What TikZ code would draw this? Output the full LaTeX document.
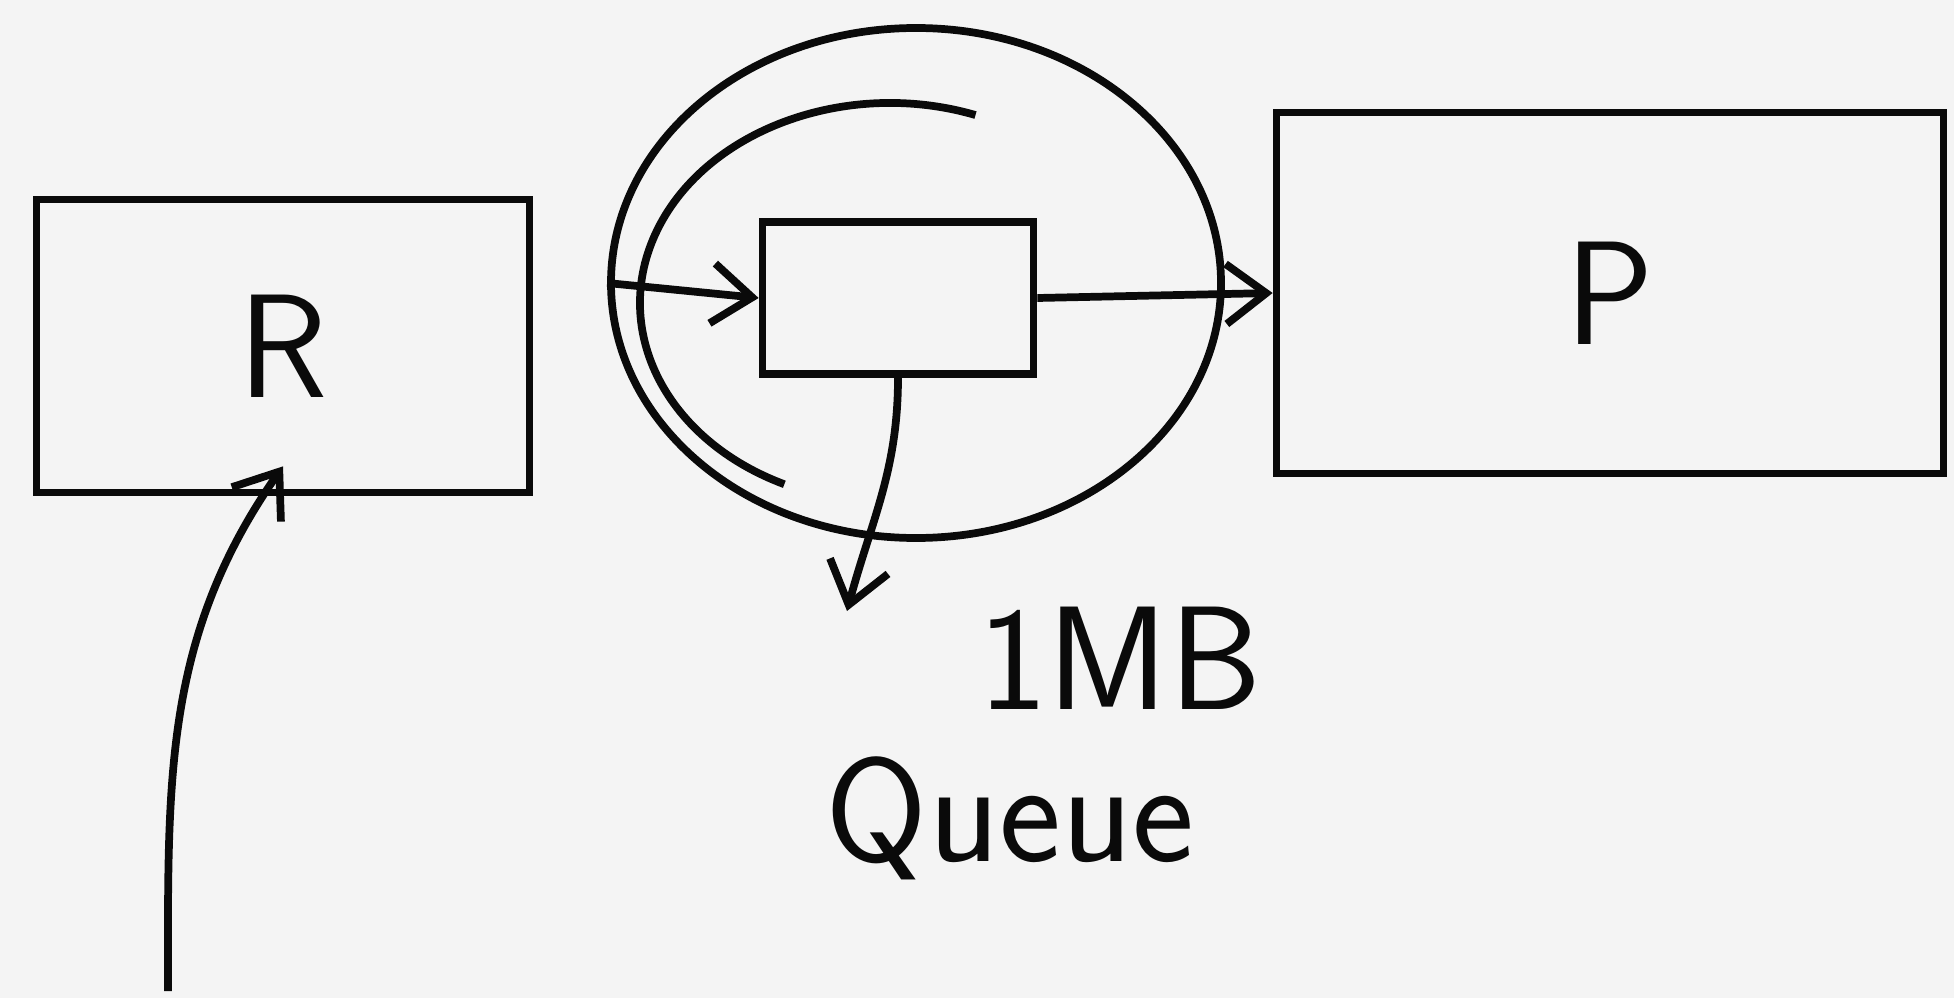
\documentclass[tikz,border=0pt]{standalone}
\usepackage{tikz}
\usetikzlibrary{arrows.meta,positioning,shapes.geometric}
\definecolor{paper}{HTML}{F4F4F4}
\definecolor{ink}{HTML}{0A0A0A}

\begin{document}
\begin{tikzpicture}[
        box/.style={draw=ink,line width=2.2pt,inner sep=0pt},
        lbl/.style={text=ink,font=\sffamily\fontsize{42}{46}\selectfont,inner sep=1pt},
        arr/.style={draw=ink,line width=2.2pt,-{Straight Barb[length=4mm,width=6mm]}}
      ]
      \fill[paper] (0,0) rectangle (19.54,9.98);
      \useasboundingbox (0,0) rectangle (19.54,9.98);

      \node[box,lbl,minimum width=4.93cm,minimum height=2.93cm] (recv) at (2.83,6.52) {R};
      \node[box,lbl,minimum width=6.67cm,minimum height=3.61cm] (proc) at (16.1,7.05) {P};
      \node[box,ellipse,minimum width=6.1cm,minimum height=5.1cm] (ring) at (9.16,7.15) {};
      \node[box,minimum width=2.71cm,minimum height=1.52cm] (slot) at (8.98,7.0) {};
      \node[lbl] (size) at (11.2,3.4) {1MB};
      \node[lbl] (qname) at (10.1,1.8) {Queue};
      \coordinate (drop) at (8.47,3.87);
      \coordinate (src) at (1.68,0.07);

      % ring around the slot
      \draw[ink,line width=2.2pt] ([shift={(70:2.5cm and 2cm)}]8.9,6.95) arc[start angle=70,end angle=245,x radius=2.5cm,y radius=2cm];

      \draw[arr] (ring.west) -- (slot.west);
      \draw[arr] (slot.east) -- (proc.west);
      \draw[arr] (slot.south) to[out=-90,in=75] (drop);
      \draw[arr] (src) to[out=90,in=235] ([yshift=3mm]recv.south);
    \end{tikzpicture}
\end{document}
